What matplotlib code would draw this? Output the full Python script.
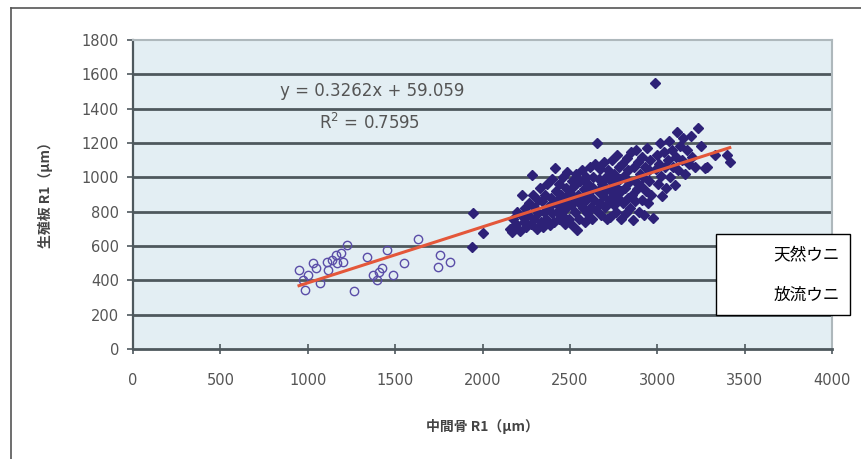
import matplotlib

matplotlib.use("Agg")
import matplotlib.pyplot as plt
from matplotlib.lines import Line2D
from matplotlib.patches import Rectangle

plt.rcParams["font.family"] = ["Noto Sans CJK JP", "DejaVu Sans"]

# released urchins (open circles)
rel_x = [950, 973, 984, 1000, 1030, 1045, 1070, 1110, 1116, 1140, 1162, 1167, 1190,
         1202, 1225, 1265, 1339, 1373, 1396, 1410, 1425, 1453, 1488, 1551, 1631,
         1745, 1757, 1814]
rel_y = [460, 402, 344, 430, 501, 470, 384, 507, 460, 520, 548, 501, 560,
         507, 606, 338, 536, 431, 402, 450, 472, 577, 431, 501, 641,
         478, 548, 507]

# natural urchins (filled diamonds)
nat_x = [1945, 1940, 2005,
         2160, 2168, 2175, 2190, 2200, 2215, 2225, 2230, 2240, 2245, 2250,
         2260, 2265, 2275, 2283, 2290, 2295, 2300, 2310, 2315, 2320, 2330, 2335, 2340, 2345, 2350,
         2360, 2365, 2370, 2375, 2385, 2390, 2395, 2400, 2405, 2410, 2414, 2420, 2425, 2430,
         2435, 2440, 2445, 2450,
         2455, 2460, 2465, 2470, 2475, 2480, 2485, 2490, 2495, 2500, 2505, 2510, 2515, 2520,
         2525, 2530, 2535, 2540, 2545, 2550,
         2555, 2560, 2565, 2570, 2575, 2580, 2585, 2590, 2595, 2600, 2605, 2610, 2615, 2620,
         2625, 2630, 2635, 2640, 2645, 2650,
         2655, 2660, 2665, 2670, 2675, 2680, 2685, 2690, 2695, 2700, 2705, 2710, 2715, 2720,
         2725, 2729, 2735, 2740, 2745, 2750,
         2755, 2760, 2765, 2770, 2775, 2780, 2785, 2790, 2795, 2800, 2805, 2810, 2815, 2820,
         2825, 2830, 2835, 2840, 2845, 2850,
         2855, 2860, 2865, 2870, 2875, 2880, 2885, 2890, 2895, 2900, 2905, 2910, 2915, 2920,
         2925, 2930, 2935, 2940, 2945, 2950,
         2955, 2960, 2965, 2975, 2986, 2990, 3000, 3005, 3010, 3015, 3020, 3030, 3040, 3045, 3050,
         3060, 3070, 3075, 3085, 3090, 3100, 3105, 3112, 3120, 3130, 3140, 3150,
         3160, 3170, 3180, 3195, 3200, 3215, 3232, 3250, 3272, 3283,
         3330, 3398, 3415]
nat_y = [790, 594, 676,
         700, 681, 760, 730, 800, 690, 897, 770, 740, 820, 710,
         780, 850, 730, 1013, 900, 760, 820, 700, 870, 790, 940, 740, 860, 711, 800,
         900, 760, 960, 830, 720, 880, 790, 990, 850, 740, 1054, 920, 800, 870,
         760, 960, 830, 900,
         780, 1000, 860, 730, 940, 820, 1030, 880, 760, 910, 840, 980, 720, 870,
         950, 800, 1020, 693, 900, 850,
         760, 980, 880, 1040, 820, 930, 740, 1000, 870, 790, 960, 900, 1060, 830,
         760, 1000, 940, 870, 1080, 810,
         1200, 920, 990, 850, 1050, 780, 960, 890, 1090, 830, 1000, 930, 760, 1040,
         870, 769, 980, 1100, 910, 840,
         1020, 950, 800, 1130, 880, 1060, 990, 760, 920, 1080, 850, 1010, 940, 790,
         1110, 880, 1040, 970, 820, 1150,
         900, 751, 1060, 980, 860, 1159, 930, 1090, 800, 1020, 950, 870, 1120, 1000,
         780, 1060, 920, 1170, 850, 1040,
         980, 1100, 900, 763, 1549, 1050, 1130, 960, 1080, 1200, 1010, 890, 1150, 1060, 940,
         1100, 1210, 1000, 1160, 1060, 955, 1120, 1264, 1040, 1180, 1100, 1230,
         1020, 1160, 1080, 1240, 1120, 1060, 1290, 1180, 1054, 1060,
         1130, 1130, 1090]

slope = 0.3262
intercept = 59.059
x_ticks = [0, 500, 1000, 1500, 2000, 2500, 3000, 3500, 4000]
y_ticks = [0, 200, 400, 600, 800, 1000, 1200, 1400, 1600, 1800]

fig = plt.figure(figsize=(8.61, 4.59), dpi=100)
fig.patch.set_facecolor("white")
ax = fig.add_axes([133 / 861, 1 - 349 / 459, 699 / 861, 309 / 459])
ax.set_facecolor("#E3EEF3")

for yv in y_ticks[1:-1]:
    ax.axhline(yv, color="#4E585D", linewidth=2.0, zorder=1)

ax.plot(nat_x, nat_y, linestyle="none", marker="D", markersize=5,
        color="#2D2177", zorder=3)
ax.plot(rel_x, rel_y, linestyle="none", marker="o", markersize=6,
        markerfacecolor="none", markeredgecolor="#5A4DA8", markeredgewidth=1.0, zorder=3)

x0 = min(rel_x + nat_x)
x1 = max(rel_x + nat_x)
ax.plot([x0, x1], [slope * x0 + intercept, slope * x1 + intercept],
        color="#E4573A", linewidth=2.2, zorder=4)

ax.set_xlim(0, 4000)
ax.set_ylim(0, 1800)
ax.set_xticks(x_ticks)
ax.set_yticks(y_ticks)

tick_font = ["Liberation Sans Narrow", "DejaVu Sans"]
ax.set_xticklabels([str(v) for v in x_ticks], family=tick_font, fontsize=10.5, color="#555555")
ax.set_yticklabels([str(v) for v in y_ticks], family=tick_font, fontsize=10.5, color="#555555")
ax.tick_params(axis="x", direction="inout", length=7, width=1.2, color="#4E585D", pad=14)
ax.tick_params(axis="y", direction="out", length=4, width=1.2, color="#4E585D", pad=6)

ax.spines["left"].set_color("#4E585D")
ax.spines["left"].set_linewidth(1.6)
ax.spines["bottom"].set_color("#4E585D")
ax.spines["bottom"].set_linewidth(2.0)
ax.spines["top"].set_color("#AEB8BC")
ax.spines["top"].set_linewidth(1.5)
ax.spines["right"].set_color("#AEB8BC")
ax.spines["right"].set_linewidth(1.5)

ax.text(1367, 1503, "y = 0.3262x + 59.059", ha="center", va="center",
        family=tick_font, fontsize=12, color="#555555")
ax.text(1350, 1316, "R$^2$ = 0.7595", ha="center", va="center",
        family=tick_font, fontsize=12, color="#555555")

ax.set_xlabel("中間骨 R1（μm）", fontsize=10, fontweight="bold", color="#444444", labelpad=22)
fig.text(45 / 861, 1 - 192 / 459, "生殖板 R1（μm）", rotation=90, ha="center", va="center",
         fontsize=10, fontweight="bold", color="#444444")

# legend box (text only)
fig.patches.append(Rectangle((716 / 861, 1 - 315 / 459), 134 / 861, 81 / 459,
                             transform=fig.transFigure, facecolor="white",
                             edgecolor="black", linewidth=1.0, zorder=5))
fig.text(840 / 861, 1 - 255 / 459, "天然ウニ", ha="right", va="center",
         fontsize=12, color="black", zorder=6)
fig.text(840 / 861, 1 - 295 / 459, "放流ウニ", ha="right", va="center",
         fontsize=12, color="black", zorder=6)

# outer frame (left and top)
fig.lines.append(Line2D([11 / 861, 11 / 861], [0, 1 - 8 / 459], transform=fig.transFigure,
                        color="#555555", linewidth=1.2))
fig.lines.append(Line2D([11 / 861, 1], [1 - 8 / 459, 1 - 8 / 459], transform=fig.transFigure,
                        color="#555555", linewidth=1.2))

fig.savefig("out.png", dpi=100)
